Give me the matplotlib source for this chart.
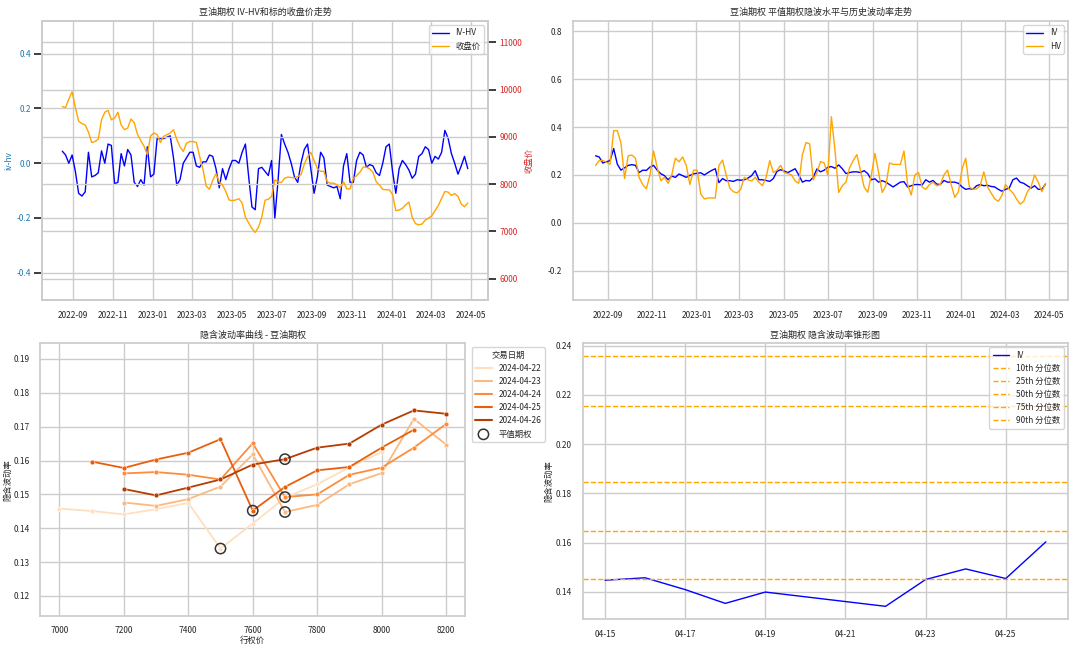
import matplotlib
matplotlib.use("Agg")
import matplotlib.pyplot as plt
import matplotlib.dates as mdates
from matplotlib.lines import Line2D
import pandas as pd
import seaborn as sns

sns.set_theme(style="whitegrid")
plt.rcParams['font.family'] = ['Noto Sans CJK SC', 'DejaVu Sans']
plt.rcParams['axes.unicode_minus'] = False
plt.rcParams['font.size'] = 6

# ---- 历史序列 (每5天读一个点) ----
dates = pd.date_range('2022-08-15', '2024-04-26', freq='5D')

iv_hv = [0.044, 0.03, 0.0, 0.03, -0.03, -0.11, -0.12, -0.105, 0.04, -0.05,
         -0.045, -0.035, 0.045, 0.0, 0.07, 0.065, -0.075, -0.07, 0.035, -0.01,
         0.05, 0.03, -0.07, -0.085, -0.06, -0.08, 0.06, -0.05, -0.04, 0.09,
         0.09, 0.09, 0.095, 0.1, 0.02, -0.08, -0.06, 0.0, 0.02, 0.04,
         0.04, -0.01, -0.015, 0.005, 0.005, 0.03, 0.025, -0.02, -0.09, -0.02,
         -0.06, -0.02, 0.01, 0.01, 0.0, 0.04, 0.07, -0.05, -0.16, -0.17,
         -0.02, -0.015, -0.03, -0.045, 0.01, -0.2, -0.06, 0.105, 0.07, 0.04,
         0.0, -0.05, -0.07, 0.0, 0.05, 0.07, -0.02, -0.11, -0.05, 0.04,
         0.02, -0.08, -0.085, -0.09, -0.085, -0.13, -0.01, 0.035, -0.07, -0.07,
         0.01, 0.04, 0.03, -0.015, -0.005, -0.01, -0.035, -0.045, 0.0, 0.06,
         0.07, -0.03, -0.11, -0.02, 0.01, -0.005, -0.025, -0.055, -0.04, 0.025,
         0.035, 0.06, 0.05, 0.0, 0.025, 0.015, 0.04, 0.12, 0.09, 0.035,
         0.0, -0.04, -0.01, 0.025, -0.02]

close = [9640, 9620, 9800, 9950, 9620, 9330, 9280, 9250, 9100, 8880,
         8900, 8950, 9360, 9520, 9560, 9360, 9400, 9520, 9250, 9150,
         9185, 9375, 9300, 9050, 8920, 8800, 8620, 9020, 9080, 9045,
         8880, 9010, 9045, 9080, 9150, 8950, 8790, 8690, 8865, 8900,
         8900, 8880, 8585, 8320, 7960, 7890, 8080, 8220, 8050, 7980,
         7845, 7665, 7650, 7665, 7690, 7600, 7300, 7180, 7060, 6980,
         7090, 7300, 7660, 7680, 7740, 8090, 8050, 8035, 8125, 8150,
         8140, 8130, 8160, 8200, 8420, 8580, 8670, 8500, 8330, 8270,
         8270, 8050, 8020, 8020, 7985, 7920, 8050, 7900, 7900, 8120,
         8180, 8250, 8360, 8360, 8320, 8250, 8050, 7980, 7890, 7880,
         7880, 7780, 7440, 7450, 7490, 7560, 7620, 7300, 7165, 7140,
         7155, 7240, 7280, 7330, 7440, 7550, 7700, 7845, 7830, 7760,
         7800, 7740, 7580, 7520, 7600]

iv = [0.28, 0.275, 0.25, 0.255, 0.26, 0.31, 0.245, 0.22, 0.23, 0.24,
      0.243, 0.24, 0.21, 0.22, 0.219, 0.233, 0.24, 0.22, 0.205, 0.197,
      0.18, 0.195, 0.19, 0.204, 0.197, 0.19, 0.198, 0.205, 0.207, 0.209,
      0.2, 0.21, 0.219, 0.226, 0.168, 0.185, 0.176, 0.176, 0.173, 0.18,
      0.178, 0.18, 0.187, 0.197, 0.218, 0.18, 0.18, 0.177, 0.173, 0.185,
      0.215, 0.222, 0.216, 0.21, 0.218, 0.226, 0.2, 0.17, 0.177, 0.175,
      0.19, 0.225, 0.213, 0.22, 0.232, 0.235, 0.228, 0.242, 0.226, 0.206,
      0.21, 0.213, 0.213, 0.21, 0.218, 0.206, 0.18, 0.184, 0.17, 0.176,
      0.17, 0.16, 0.15, 0.16, 0.17, 0.172, 0.15, 0.155, 0.16, 0.16,
      0.158, 0.18, 0.17, 0.177, 0.162, 0.16, 0.177, 0.17, 0.17, 0.17,
      0.165, 0.15, 0.14, 0.143, 0.14, 0.155, 0.16, 0.155, 0.157, 0.152,
      0.15, 0.14, 0.132, 0.14, 0.145, 0.18, 0.187, 0.17, 0.165, 0.155,
      0.145, 0.155, 0.14, 0.14, 0.162]

hv = [0.24, 0.26, 0.26, 0.253, 0.245, 0.385, 0.385, 0.334, 0.185, 0.28,
      0.283, 0.27, 0.19, 0.16, 0.142, 0.2, 0.3, 0.23, 0.176, 0.19,
      0.165, 0.2, 0.27, 0.255, 0.275, 0.24, 0.16, 0.22, 0.22, 0.12,
      0.1, 0.104, 0.104, 0.104, 0.24, 0.262, 0.2, 0.145, 0.13, 0.125,
      0.14, 0.19, 0.18, 0.175, 0.19, 0.17, 0.155, 0.19, 0.26, 0.21,
      0.22, 0.24, 0.21, 0.206, 0.2, 0.175, 0.165, 0.285, 0.335, 0.33,
      0.18, 0.21, 0.256, 0.25, 0.2, 0.443, 0.3, 0.127, 0.155, 0.17,
      0.23, 0.26, 0.285, 0.22, 0.15, 0.128, 0.2, 0.29, 0.21, 0.127,
      0.155, 0.25, 0.244, 0.244, 0.244, 0.3, 0.16, 0.116, 0.2, 0.21,
      0.15, 0.14, 0.16, 0.17, 0.155, 0.16, 0.2, 0.22, 0.16, 0.106,
      0.13, 0.225, 0.27, 0.15, 0.14, 0.142, 0.155, 0.213, 0.15, 0.125,
      0.1, 0.09, 0.115, 0.16, 0.14, 0.125, 0.1, 0.078, 0.09, 0.13,
      0.15, 0.2, 0.17, 0.13, 0.165]

# ---- 隐含波动率曲线 ----
smile_dates = ['2024-04-22', '2024-04-23', '2024-04-24', '2024-04-25', '2024-04-26']
smile_strikes = [
    [7000, 7100, 7200, 7300, 7400, 7500, 7600, 7700, 7800, 7900, 8000],
    [7200, 7300, 7400, 7500, 7600, 7700, 7800, 7900, 8000, 8100, 8200],
    [7200, 7300, 7400, 7500, 7600, 7700, 7800, 7900, 8000, 8100, 8200],
    [7100, 7200, 7300, 7400, 7500, 7600, 7700, 7800, 7900, 8000, 8100],
    [7200, 7300, 7400, 7500, 7600, 7700, 7800, 7900, 8000, 8100, 8200],
]
smile_ivs = [
    [0.1458, 0.1451, 0.1441, 0.1456, 0.1475, 0.134, 0.1414, 0.149, 0.153, 0.158, 0.1625],
    [0.1476, 0.1466, 0.1486, 0.1523, 0.1618, 0.1448, 0.1469, 0.153, 0.1563, 0.1723, 0.1647],
    [0.1562, 0.1566, 0.1558, 0.1544, 0.1651, 0.1492, 0.150, 0.1558, 0.1579, 0.1638, 0.1708],
    [0.1597, 0.1578, 0.1603, 0.1623, 0.1663, 0.1452, 0.1522, 0.1571, 0.1581, 0.1638, 0.1691],
    [0.1516, 0.1497, 0.152, 0.1544, 0.1588, 0.1604, 0.1638, 0.165, 0.1706, 0.1748, 0.1738],
]
atm_strikes = [7500, 7700, 7700, 7600, 7700]
atm_ivs = [0.134, 0.1448, 0.1492, 0.1452, 0.1604]

# ---- 锥形图 ----
cone_dates = pd.to_datetime(['2024-04-15', '2024-04-16', '2024-04-17', '2024-04-18', '2024-04-19',
                             '2024-04-22', '2024-04-23', '2024-04-24', '2024-04-25', '2024-04-26'])
cone_iv = [0.1447, 0.1457, 0.1409, 0.1353, 0.1399, 0.1341, 0.145, 0.1493, 0.1454, 0.1603]
pct_labels = ['10th', '25th', '50th', '75th', '90th']
pct_values = [0.1454, 0.1648, 0.1847, 0.2154, 0.2360]

fig = plt.figure(figsize=(10.8, 6.46), dpi=100)
tick_kw = dict(labelsize=6, pad=2)
fs = 6
tfs = 6.5

# 左上: IV-HV 和收盘价
ax1 = fig.add_axes([0.0389, 0.5356, 0.413, 0.432])
l1, = ax1.plot(dates, iv_hv, color='blue', lw=1.0, label='IV-HV')
ax1.set_ylim(-0.5, 0.52)
ax1.set_yticks([-0.4, -0.2, 0.0, 0.2, 0.4])
ax1.set_ylabel('iv-hv', color='tab:blue', fontsize=fs, labelpad=2)
ax1.tick_params(axis='y', labelcolor='tab:blue', **tick_kw)
ax1.tick_params(axis='x', **tick_kw)
ax2 = ax1.twinx()
l2, = ax2.plot(dates, close, color='orange', lw=1.0, label='收盘价')
ax2.set_ylim(5550, 11450)
ax2.set_yticks([6000, 7000, 8000, 9000, 10000, 11000])
ax2.set_ylabel('收盘价', color='tab:red', fontsize=fs, labelpad=2)
ax2.tick_params(axis='y', labelcolor='tab:red', **tick_kw)
ax1.xaxis.set_major_locator(mdates.MonthLocator(bymonth=[1, 3, 5, 7, 9, 11]))
ax1.xaxis.set_major_formatter(mdates.DateFormatter('%Y-%m'))
ax1.set_title('豆油期权 IV-HV和标的收盘价走势', fontsize=tfs, pad=4)
ax2.legend([l1, l2], ['IV-HV', '收盘价'], loc='upper right', fontsize=fs)

# 右上: IV 与 HV
ax3 = fig.add_axes([0.5306, 0.5356, 0.4583, 0.432])
ax3.plot(dates, iv, color='blue', lw=1.0, label='IV')
ax3.plot(dates, hv, color='orange', lw=1.0, label='HV')
ax3.set_ylim(-0.322, 0.843)
ax3.xaxis.set_major_locator(mdates.MonthLocator(bymonth=[1, 3, 5, 7, 9, 11]))
ax3.xaxis.set_major_formatter(mdates.DateFormatter('%Y-%m'))
ax3.tick_params(**tick_kw)
ax3.set_title('豆油期权 平值期权隐波水平与历史波动率走势', fontsize=tfs, pad=4)
ax3.legend(loc='upper right', fontsize=fs)

# 左下: 隐含波动率曲线
ax4 = fig.add_axes([0.037, 0.046, 0.394, 0.423])
colors = sns.color_palette('Oranges', len(smile_dates))
handles = []
for d, ks, vs, c in zip(smile_dates, smile_strikes, smile_ivs, colors):
    ax4.plot(ks, vs, color=c, lw=1.3, marker='o', markersize=3.5,
             markeredgecolor='white', markeredgewidth=0.4)
    handles.append(Line2D([], [], color=c, lw=1.5, label=d))
atm = ax4.scatter(atm_strikes, atm_ivs, s=55, facecolors='none', edgecolors='#333333',
                  linewidths=1.1, zorder=5, label='平值期权')
handles.append(atm)
ax4.set_ylim(0.114, 0.1947)
ax4.set_xlabel('行权价', fontsize=fs, labelpad=1)
ax4.set_ylabel('隐含波动率', fontsize=fs, labelpad=1)
ax4.tick_params(labelsize=6, pad=1)
ax4.set_title('隐含波动率曲线 - 豆油期权', fontsize=tfs, pad=4)
ax4.legend(handles=handles, title='交易日期', loc='upper left', bbox_to_anchor=(1.005, 1.0),
           fontsize=fs, title_fontsize=fs)

# 右下: 锥形图
ax5 = fig.add_axes([0.5398, 0.042, 0.449, 0.427])
ax5.plot(cone_dates, cone_iv, color='blue', lw=1.0, label='IV')
for lab, v in zip(pct_labels, pct_values):
    ax5.axhline(v, color='orange', ls='--', lw=1.0, label=f'{lab} 分位数')
ax5.set_xticks(pd.date_range('2024-04-15', '2024-04-25', freq='2D'))
ax5.xaxis.set_major_formatter(mdates.DateFormatter('%m-%d'))
ax5.set_ylabel('隐含波动率', fontsize=fs, labelpad=2)
ax5.tick_params(**tick_kw)
ax5.set_title('豆油期权 隐含波动率锥形图', fontsize=tfs, pad=4)
ax5.legend(loc='upper right', fontsize=fs)

fig.savefig('out.png', dpi=100)
